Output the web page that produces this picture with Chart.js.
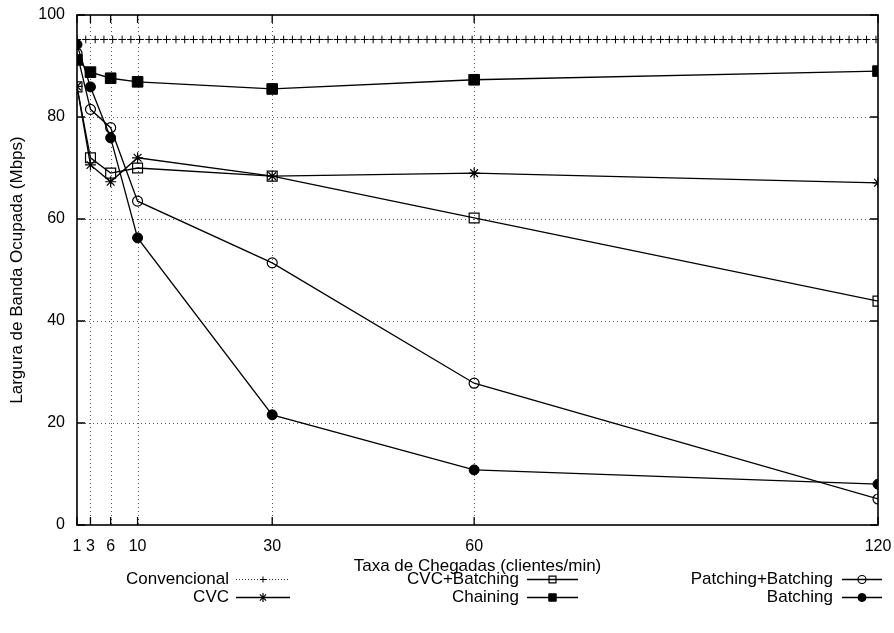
<!DOCTYPE html>
<html>
<head>
<meta charset="utf-8">
<script src="https://cdn.jsdelivr.net/npm/chart.js@4.4.1/dist/chart.umd.min.js"></script>
<style>
  html, body { margin: 0; padding: 0; background: #fff; }
  canvas { display: block; }
</style>
</head>
<body>
<canvas id="c" width="894" height="633"></canvas>
<script>
// ---- data ----
const rates = [1, 3, 6, 10, 30, 60, 120];           // Taxa de Chegadas (clientes/min)
const xTickValues = [1, 3, 6, 10, 30, 60, 120];
const yTickValues = [0, 20, 40, 60, 80, 100];

const cvc              = [86.0, 70.6, 67.3, 72.0, 68.4, 69.0, 67.1];
const cvcBatching      = [85.9, 72.0, 69.0, 70.0, 68.4, 60.2, 43.9];
const chaining         = [91.2, 88.8, 87.6, 86.9, 85.5, 87.3, 89.0];
const patchingBatching = [92.5, 81.5, 77.9, 63.5, 51.4, 27.8, 5.1];
const batching         = [94.2, 85.9, 75.9, 56.3, 21.6, 10.8, 8.0];

// Convencional: densely sampled constant curve (+ markers along the top)
const convencionalRates = [1, 2.3, 3.7, 5, 6.3, 7.7, 9, 10.3, 11.7, 13, 14.3, 15.7, 17, 18.3, 19.7, 21, 22.3, 23.7, 25, 26.3, 27.7, 29, 30.3, 31.7, 33, 34.3, 35.7, 37, 38.3, 39.7, 41, 42.3, 43.7, 45, 46.3, 47.7, 49, 50.3, 51.7, 53, 54.3, 55.7, 57, 58.3, 59.7, 61, 62.3, 63.7, 65, 66.3, 67.7, 69, 70.3, 71.7, 73, 74.3, 75.7, 77, 78.3, 79.7, 81, 82.3, 83.7, 85, 86.3, 87.7, 89, 90.3, 91.7, 93, 94.3, 95.7, 97, 98.3, 99.7, 101, 102.3, 103.7, 105, 106.3, 107.7, 109, 110.3, 111.7, 113, 114.3, 115.7, 117, 118.3, 119.7];
const convencional = [95.2, 95.2, 95.2, 95.2, 95.2, 95.2, 95.2, 95.2, 95.2, 95.2, 95.2, 95.2, 95.2, 95.2, 95.2, 95.2, 95.2, 95.2, 95.2, 95.2, 95.2, 95.2, 95.2, 95.2, 95.2, 95.2, 95.2, 95.2, 95.2, 95.2, 95.2, 95.2, 95.2, 95.2, 95.2, 95.2, 95.2, 95.2, 95.2, 95.2, 95.2, 95.2, 95.2, 95.2, 95.2, 95.2, 95.2, 95.2, 95.2, 95.2, 95.2, 95.2, 95.2, 95.2, 95.2, 95.2, 95.2, 95.2, 95.2, 95.2, 95.2, 95.2, 95.2, 95.2, 95.2, 95.2, 95.2, 95.2, 95.2, 95.2, 95.2, 95.2, 95.2, 95.2, 95.2, 95.2, 95.2, 95.2, 95.2, 95.2, 95.2, 95.2, 95.2, 95.2, 95.2, 95.2, 95.2, 95.2, 95.2, 95.2];

const xTitle = 'Taxa de Chegadas (clientes/min)';
const yTitle = 'Largura de Banda Ocupada (Mbps)';

// ---- chart ----
const FONT = '"Liberation Sans", Arial, Helvetica, sans-serif';
const FS = 16;      // tick labels
const FS_T = 17;    // titles and key

function pts(xs, ys) { return xs.map((x, i) => ({ x: x, y: ys[i] })); }

const datasets = [
  { label: 'Convencional', data: pts(convencionalRates, convencional), borderColor: '#333', borderWidth: 1, borderDash: [1, 2],
    pointStyle: 'cross', pointRadius: 3.8, pointBorderWidth: 1, pointBorderColor: '#000', pointBackgroundColor: '#000',
    legend: { col: 0, row: 0 } },
  { label: 'CVC', data: pts(rates, cvc), borderColor: '#000', borderWidth: 1.3,
    pointStyle: 'star', pointRadius: 5.5, pointBorderWidth: 1.2, pointBorderColor: '#000', pointBackgroundColor: '#000',
    legend: { col: 0, row: 1 } },
  { label: 'CVC+Batching', data: pts(rates, cvcBatching), borderColor: '#000', borderWidth: 1.3,
    pointStyle: 'rect', pointRadius: 7, pointBorderWidth: 1.2, pointBorderColor: '#000', pointBackgroundColor: 'rgba(0,0,0,0)',
    legend: { col: 1, row: 0 } },
  { label: 'Chaining', data: pts(rates, chaining), borderColor: '#000', borderWidth: 1.3,
    pointStyle: 'rect', pointRadius: 7.5, pointBorderWidth: 1, pointBorderColor: '#000', pointBackgroundColor: '#000',
    legend: { col: 1, row: 1 } },
  { label: 'Patching+Batching', data: pts(rates, patchingBatching), borderColor: '#000', borderWidth: 1.3,
    pointStyle: 'circle', pointRadius: 5, pointBorderWidth: 1.2, pointBorderColor: '#000', pointBackgroundColor: 'rgba(0,0,0,0)',
    legend: { col: 2, row: 0 } },
  { label: 'Batching', data: pts(rates, batching), borderColor: '#000', borderWidth: 1.3,
    pointStyle: 'circle', pointRadius: 5, pointBorderWidth: 1, pointBorderColor: '#000', pointBackgroundColor: '#000',
    legend: { col: 2, row: 1 } }
];

// key layout (gnuplot style: right-justified text + sample)
const legendCols = [
  { textRight: 229, x1: 236, x2: 290 },
  { textRight: 519, x1: 527, x2: 578 },
  { textRight: 833, x1: 842, x2: 882 }
];
const legendRows = [579, 597];

const gridPlugin = {
  id: 'gnuGrid',
  beforeDatasetsDraw(chart) {
    const { ctx, chartArea: a, scales: { x, y } } = chart;
    ctx.save();
    ctx.strokeStyle = 'rgba(0,0,0,0.65)';
    ctx.lineWidth = 1;
    ctx.setLineDash([1, 3]);
    x.ticks.forEach(t => {
      if (t.value === x.min || t.value === x.max) return;
      const px = Math.round(x.getPixelForValue(t.value)) + 0.5;
      ctx.beginPath(); ctx.moveTo(px, a.top); ctx.lineTo(px, a.bottom); ctx.stroke();
    });
    y.ticks.forEach(t => {
      if (t.value === y.min || t.value === y.max) return;
      const py = Math.round(y.getPixelForValue(t.value)) + 0.5;
      ctx.beginPath(); ctx.moveTo(a.left, py); ctx.lineTo(a.right, py); ctx.stroke();
    });
    ctx.restore();
  },
  afterDraw(chart) {
    const { ctx, chartArea: a, scales: { x, y } } = chart;
    ctx.save();
    // frame
    ctx.setLineDash([]);
    ctx.strokeStyle = '#000';
    ctx.lineWidth = 1.6;
    ctx.strokeRect(a.left, a.top, a.right - a.left, a.bottom - a.top);
    // inner tick marks
    ctx.lineWidth = 1.3;
    const L = 8;
    x.ticks.forEach(t => {
      const px = x.getPixelForValue(t.value);
      ctx.beginPath();
      ctx.moveTo(px, a.bottom); ctx.lineTo(px, a.bottom - L);
      ctx.moveTo(px, a.top); ctx.lineTo(px, a.top + L);
      ctx.stroke();
    });
    y.ticks.forEach(t => {
      const py = y.getPixelForValue(t.value);
      ctx.beginPath();
      ctx.moveTo(a.left, py); ctx.lineTo(a.left + L, py);
      ctx.moveTo(a.right, py); ctx.lineTo(a.right - L, py);
      ctx.stroke();
    });
    // axis titles
    ctx.fillStyle = '#000';
    ctx.font = FS_T + 'px ' + FONT;
    ctx.textAlign = 'center';
    ctx.textBaseline = 'middle';
    ctx.fillText(xTitle, (a.left + a.right) / 2, 566);
    ctx.save();
    ctx.translate(17, (a.top + a.bottom) / 2);
    ctx.rotate(-Math.PI / 2);
    ctx.fillText(yTitle, 0, 0);
    ctx.restore();
    // key
    chart.data.datasets.forEach(ds => {
      const col = legendCols[ds.legend.col];
      const yy = legendRows[ds.legend.row];
      ctx.textAlign = 'right';
      ctx.fillStyle = '#000';
      ctx.fillText(ds.label, col.textRight, yy);
      ctx.save();
      ctx.strokeStyle = ds.borderColor;
      ctx.lineWidth = ds.borderWidth;
      ctx.setLineDash(ds.borderDash || []);
      ctx.beginPath(); ctx.moveTo(col.x1, yy + 0.5); ctx.lineTo(col.x2, yy + 0.5); ctx.stroke();
      ctx.setLineDash([]);
      ctx.strokeStyle = ds.pointBorderColor;
      ctx.fillStyle = ds.pointBackgroundColor;
      ctx.lineWidth = ds.pointBorderWidth;
      const r = ds.pointStyle === 'rect' ? ds.pointRadius * 0.7 : ds.pointRadius * 0.8;
      Chart.helpers.drawPoint(ctx, { pointStyle: ds.pointStyle, radius: r, rotation: 0, borderWidth: ds.pointBorderWidth }, (col.x1 + col.x2) / 2, yy + 0.5);
      ctx.restore();
    });
    ctx.restore();
  }
};

new Chart(document.getElementById('c'), {
  type: 'scatter',
  data: { datasets: datasets.map(d => Object.assign({ showLine: true, fill: false, tension: 0 }, d)) },
  options: {
    responsive: false,
    animation: false,
    devicePixelRatio: 1,
    layout: { padding: { left: 0, right: 16, top: 15, bottom: 0 } },
    plugins: { legend: { display: false }, tooltip: { enabled: false }, title: { display: false } },
    scales: {
      x: {
        type: 'linear', min: 1, max: 120,
        afterBuildTicks: s => { s.ticks = xTickValues.map(v => ({ value: v })); },
        afterFit: s => { s.height = 108; s.paddingLeft = 0; s.paddingRight = 0; },
        ticks: { color: '#000', font: { family: FONT, size: FS }, padding: 12, maxRotation: 0, autoSkip: false },
        grid: { display: false, drawTicks: false },
        border: { display: false }
      },
      y: {
        type: 'linear', min: 0, max: 100,
        afterBuildTicks: s => { s.ticks = yTickValues.map(v => ({ value: v })); },
        afterFit: s => { s.width = 77; s.paddingTop = 0; s.paddingBottom = 0; },
        ticks: { color: '#000', font: { family: FONT, size: FS }, padding: 12 },
        grid: { display: false, drawTicks: false },
        border: { display: false }
      }
    }
  },
  plugins: [gridPlugin]
});
</script>
</body>
</html>
